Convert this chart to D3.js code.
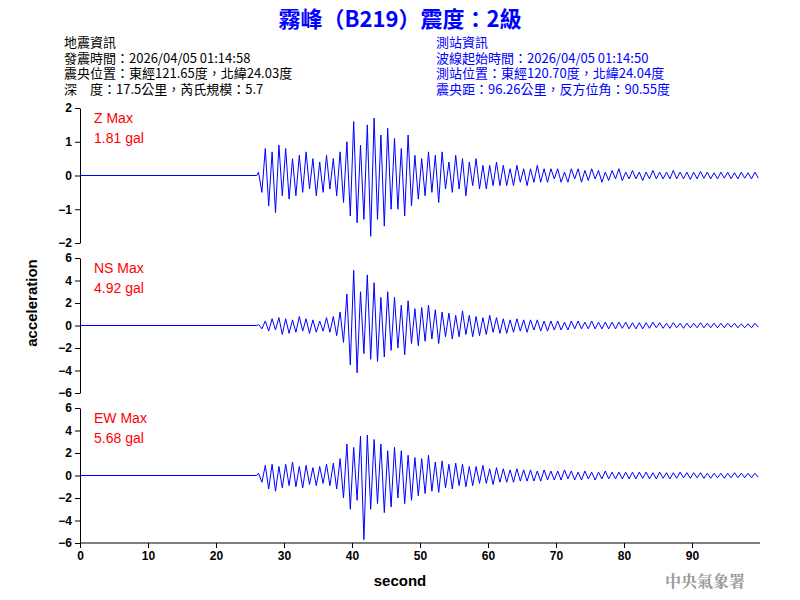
<!DOCTYPE html>
<html><head><meta charset="utf-8">
<script src="https://cdn.jsdelivr.net/npm/d3@7"></script>
<style>body{margin:0;background:#fff}text{font-family:Arial,"Liberation Sans",sans-serif}</style>
</head><body><svg id="c" width="800" height="600"></svg>
<script>
// waveform peaks every 0.5 s starting at 26 s; before that the trace is flat
var startT = 26, stepT = 0.5;
var zVals = [0.1,-0.5,0.8,-0.9,0.7,-1.1,0.9,-0.6, 0.8,-0.7,0.5,-0.6,0.6,-0.5,0.7,-0.4,
  0.5,-0.6,0.4,-0.5,0.6,-0.4,0.5,-0.6, 0.7,-0.8,1.0,-1.2,1.6,-1.4,0.9,-1.3,
  1.5,-1.8,1.7,-1.3,1.2,-1.5,1.4,-1.0, 1.1,-1.0,0.8,-1.2,1.2,-0.9,0.6,-0.7,
  0.5,-0.6,0.7,-0.5,0.6,-0.8,0.7,-0.4, 0.4,-0.5,0.6,-0.4,0.5,-0.6,0.4,-0.3,
  0.5,-0.4,0.3,-0.4,0.3,-0.3,0.4,-0.3, 0.3,-0.3,0.2,-0.3,0.3,-0.2,0.2,-0.3,
  0.2,-0.2,0.3,-0.2,0.2,-0.2,0.2,-0.1, 0.2,-0.2,0.1,-0.2,0.2,-0.1,0.2,-0.2,
  0.15,-0.15,0.2,-0.1,0.15,-0.2,0.1,-0.15, 0.15,-0.1,0.2,-0.15,0.1,-0.1,0.15,-0.1,
  0.1,-0.15,0.1,-0.1,0.15,-0.1,0.1,-0.1, 0.1,-0.1,0.15,-0.1,0.1,-0.1,0.1,-0.12,
  0.1,-0.1,0.12,-0.08,0.1,-0.1,0.08,-0.1, 0.1,-0.08,0.1,-0.1,0.08,-0.1,0.1,-0.08,
  0.08,-0.1,0.1,-0.08];
var nsVals = [0.1,-0.3,0.4,-0.5,0.6,-0.4,0.7,-0.8, 0.6,-0.7,0.5,-0.6,0.8,-0.5,0.6,-0.7,
  0.5,-0.6,0.4,-0.5,0.7,-0.6,0.8,-0.9, 1.2,-1.5,2.8,-3.5,4.9,-4.2,3.0,-2.5,
  4.5,-3.0,3.8,-3.2,2.5,-2.8,3.0,-2.2, 2.5,-2.0,1.8,-2.6,2.2,-1.6,1.5,-1.8,
  1.6,-1.4,1.8,-1.2,1.4,-1.6,1.2,-1.0, 1.1,-1.2,0.9,-1.0,1.3,-0.8,0.9,-1.0,
  0.8,-0.9,0.7,-0.8,0.9,-0.6,0.7,-0.7, 0.6,-0.7,0.5,-0.6,0.6,-0.5,0.5,-0.6,
  0.5,-0.4,0.5,-0.5,0.4,-0.5,0.4,-0.4, 0.4,-0.4,0.3,-0.4,0.4,-0.3,0.4,-0.3,
  0.3,-0.3,0.4,-0.3,0.3,-0.3,0.3,-0.3, 0.3,-0.3,0.3,-0.25,0.3,-0.3,0.25,-0.3,
  0.25,-0.3,0.25,-0.25,0.3,-0.2,0.25,-0.25, 0.2,-0.25,0.25,-0.2,0.2,-0.25,0.2,-0.2,
  0.2,-0.2,0.25,-0.2,0.2,-0.2,0.2,-0.2, 0.2,-0.2,0.2,-0.15,0.2,-0.2,0.15,-0.2,
  0.15,-0.2,0.2,-0.15];
var ewVals = [0.2,-0.6,0.9,-1.2,1.0,-1.4,0.8,-1.1, 1.0,-0.9,1.2,-1.0,0.8,-1.1,0.9,-0.8,
  0.7,-0.9,0.8,-0.7,1.0,-0.9,1.1,-1.2, 1.5,-2.0,2.8,-3.0,2.5,-2.2,3.5,-5.7,
  3.6,-3.0,3.2,-2.5,2.8,-3.3,2.2,-2.8, 2.5,-2.0,2.2,-2.5,1.8,-2.2,1.6,-1.8,
  1.5,-1.6,1.8,-1.4,1.2,-1.5,1.3,-1.1, 1.0,-1.2,1.1,-0.9,1.0,-1.0,0.8,-0.9,
  0.8,-0.7,0.9,-0.7,0.6,-0.8,0.7,-0.6, 0.6,-0.6,0.5,-0.6,0.6,-0.5,0.5,-0.5,
  0.5,-0.5,0.4,-0.5,0.5,-0.4,0.4,-0.4, 0.4,-0.4,0.5,-0.3,0.4,-0.4,0.3,-0.4,
  0.4,-0.3,0.3,-0.4,0.3,-0.3,0.4,-0.3, 0.3,-0.3,0.3,-0.3,0.3,-0.3,0.3,-0.3,
  0.3,-0.25,0.3,-0.3,0.25,-0.3,0.3,-0.25, 0.25,-0.3,0.25,-0.25,0.3,-0.2,0.25,-0.25,
  0.25,-0.2,0.25,-0.25,0.2,-0.25,0.2,-0.2, 0.2,-0.25,0.2,-0.2,0.25,-0.2,0.2,-0.2,
  0.2,-0.2,0.2,-0.15];
var comps = ["Z", "NS", "EW"];
var maxLabels = ["1.81 gal", "4.92 gal", "5.68 gal"];
var yDomains = [[-2, 2], [-6, 6], [-6, 6]];
var yTicks = [[-2,-1,0,1,2], [-6,-4,-2,0,2,4,6], [-6,-4,-2,0,2,4,6]];
var allVals = [zVals, nsVals, ewVals];
var xTicks = [0,10,20,30,40,50,60,70,80,90];
var leftInfo = ["地震資訊", "發震時間：2026/04/05 01:14:58", "震央位置：東經121.65度，北緯24.03度", "深　度：17.5公里，芮氏規模：5.7"];
var rightInfo = ["測站資訊", "波線起始時間：2026/04/05 01:14:50", "測站位置：東經120.70度，北緯24.04度", "震央距：96.26公里，反方位角：90.55度"];

var svg = d3.select("#c");
var x = d3.scaleLinear().domain([0, 100]).range([80, 760]);
var panelTops = [108, 258, 408], panelH = 135;
var cjk = "'Noto Sans CJK TC',sans-serif";

svg.append("text").attr("x", 400).attr("y", 27).attr("text-anchor", "middle")
	.attr("fill", "#0000ff").attr("font-size", 22).attr("font-weight", "bold")
	.style("font-family", cjk).text("霧峰（B219）震度：2級");
leftInfo.forEach(function(t, i) {
	svg.append("text").attr("x", 64).attr("y", 47 + i * 15.5).attr("font-size", 13)
		.style("font-family", cjk).text(t);
});
rightInfo.forEach(function(t, i) {
	svg.append("text").attr("x", 436).attr("y", 47 + i * 15.5).attr("font-size", 13).attr("fill", "#0000ff")
		.style("font-family", cjk).text(t);
});

comps.forEach(function(c, k) {
	var y = d3.scaleLinear().domain(yDomains[k]).range([panelTops[k] + panelH, panelTops[k]]);
	var g = svg.append("g");
	var ax = g.append("g").attr("transform", "translate(80,0)")
		.call(d3.axisLeft(y).tickValues(yTicks[k]).tickFormat(d3.format("d")).tickSize(5).tickSizeOuter(0));
	ax.selectAll("text").attr("font-size", 12).attr("font-weight", "bold");
	var pts = [[0, 0], [startT, 0]].concat(allVals[k].map(function(v, i) { return [startT + 0.25 + i * stepT, v]; }));
	var line = d3.line().x(function(d) { return x(d[0]); }).y(function(d) { return y(d[1]); });
	g.append("path").attr("d", line(pts)).attr("fill", "none").attr("stroke", "#0000ff").attr("stroke-width", 1);
	g.append("text").attr("x", 94).attr("y", panelTops[k] + 15).attr("fill", "red").attr("font-size", 14).text(c + " Max");
	g.append("text").attr("x", 94).attr("y", panelTops[k] + 35).attr("fill", "red").attr("font-size", 14).text(maxLabels[k]);
});

var xa = svg.append("g").attr("transform", "translate(0,543)")
	.call(d3.axisBottom(x).tickValues(xTicks).tickSize(5).tickSizeOuter(0));
xa.select(".domain").attr("d", "M80,0H760");
xa.selectAll("text").attr("font-size", 12).attr("font-weight", "bold");
svg.append("text").attr("x", 400).attr("y", 586).attr("text-anchor", "middle").attr("font-size", 15).attr("font-weight", "bold").text("second");
svg.append("text").attr("transform", "translate(37,303) rotate(-90)").attr("text-anchor", "middle").attr("font-size", 15).attr("font-weight", "bold").text("acceleration");
svg.append("text").attr("x", 745).attr("y", 587).attr("text-anchor", "end").attr("fill", "#999").attr("font-size", 16)
	.attr("font-weight", "bold").style("font-family", "'Noto Serif CJK TC','Noto Sans CJK TC',serif").text("中央氣象署");
</script></body></html>
